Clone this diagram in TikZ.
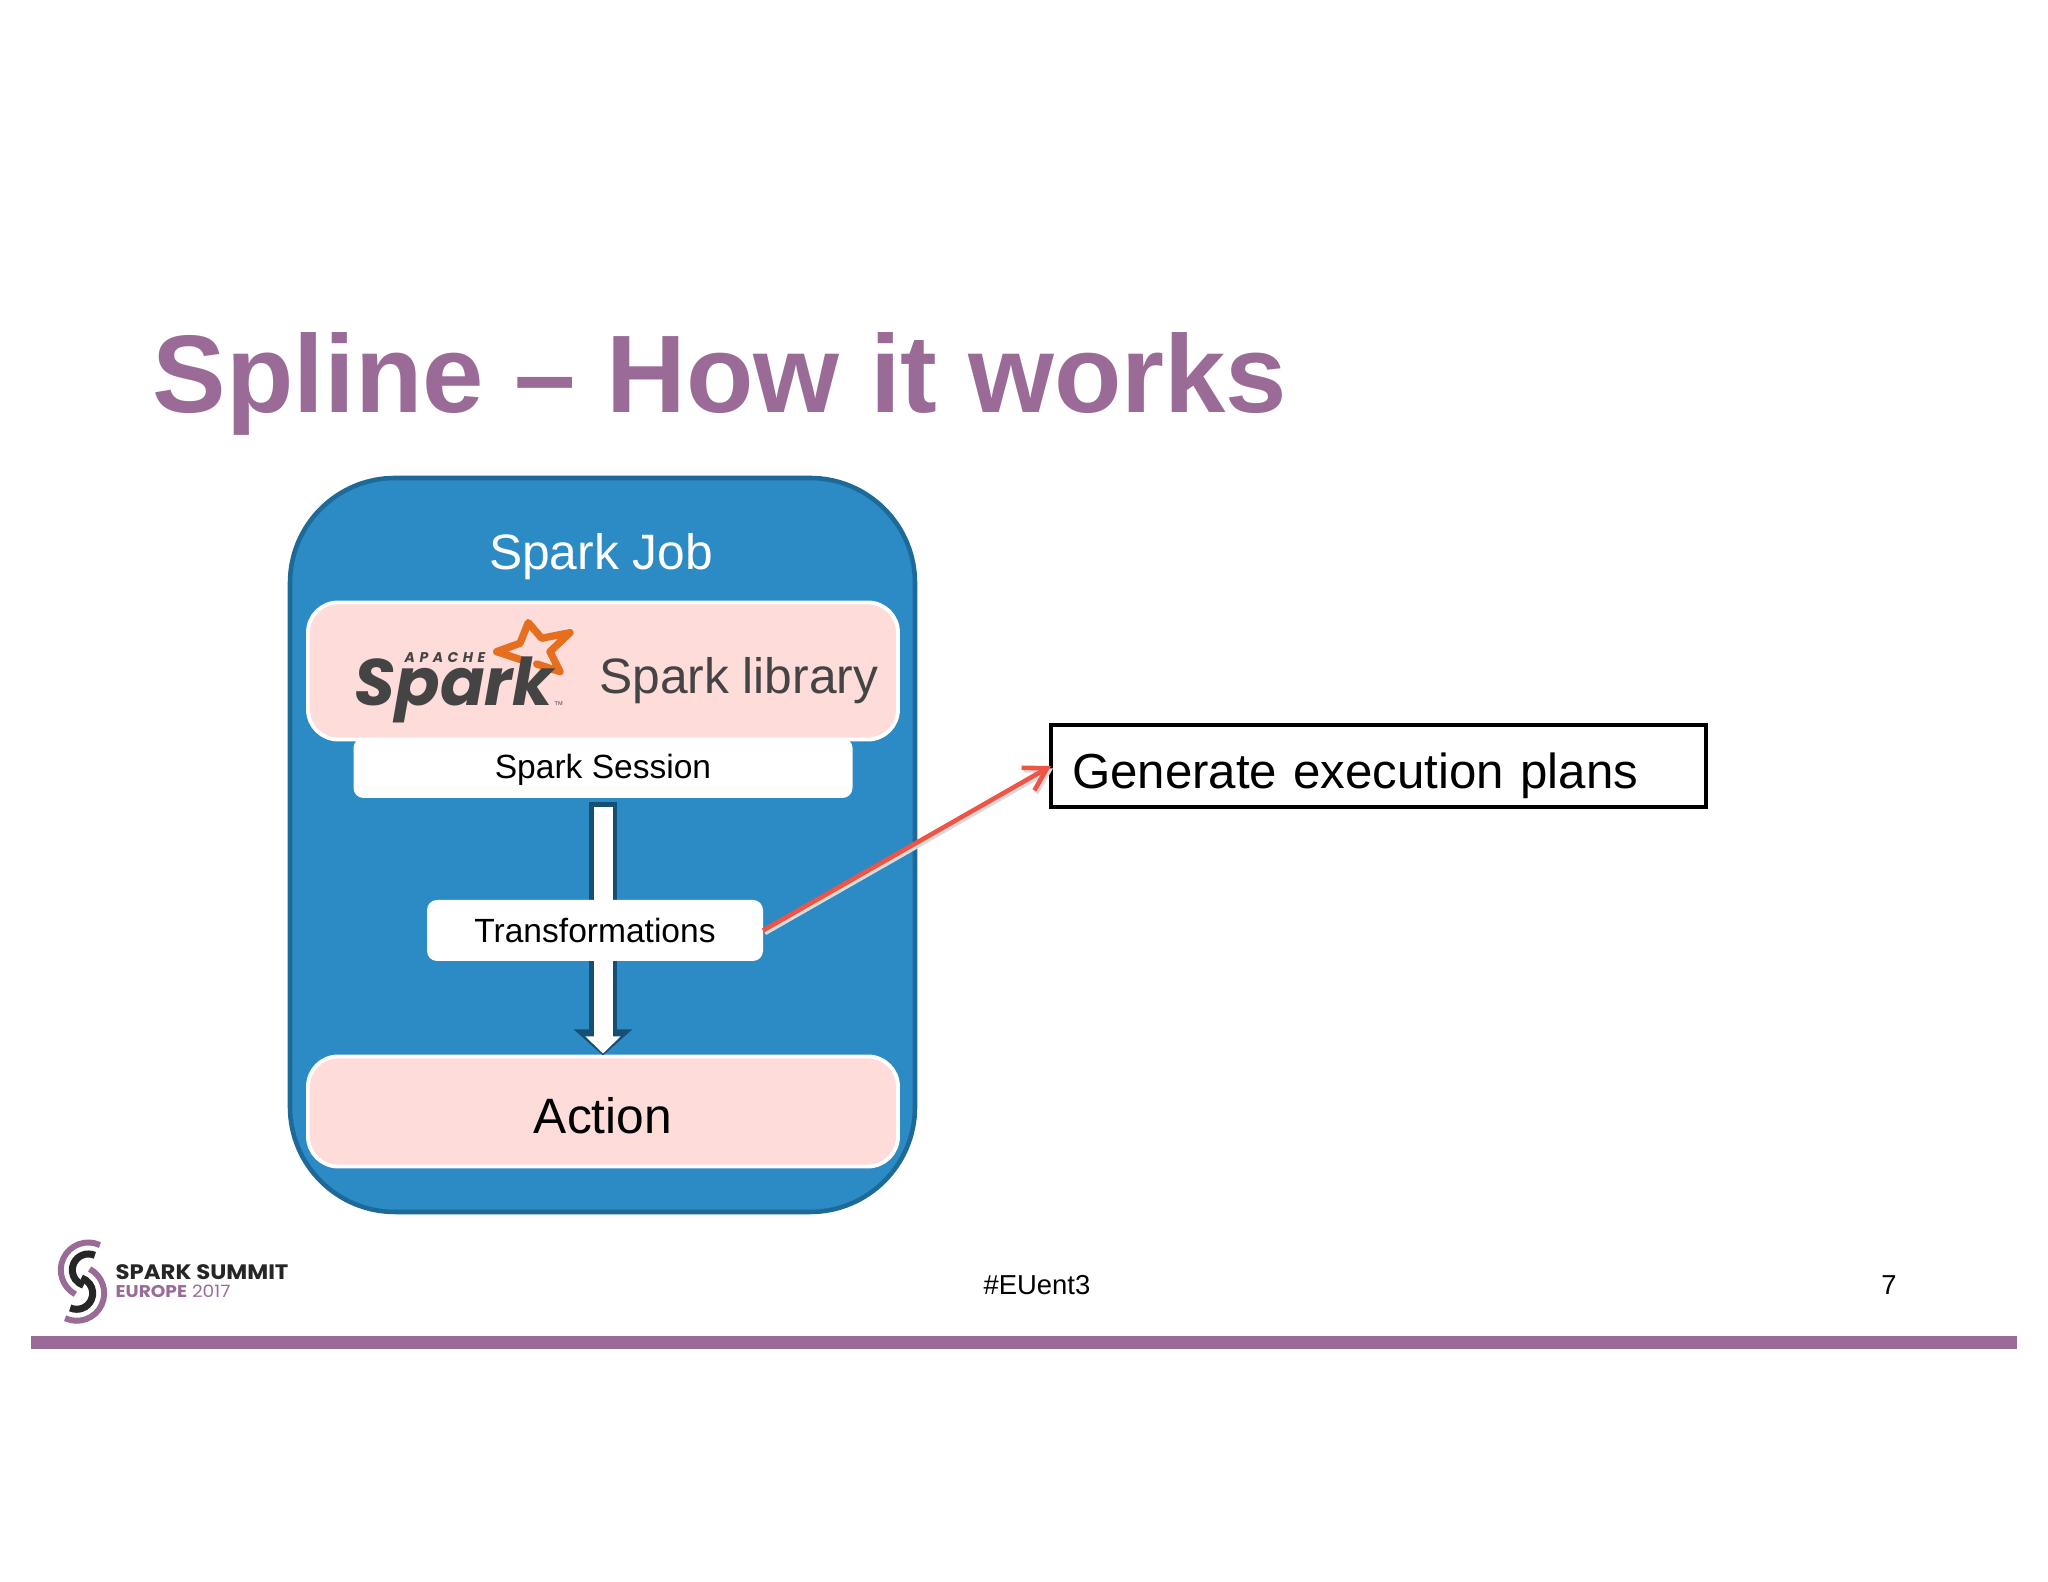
\documentclass[tikz,border=0pt]{standalone}
\usepackage{fontspec}
\setmainfont{Liberation Sans}
\newfontfamily\logofont{Poppins}
\newfontfamily\summitfont[FakeStretch=1.09]{Poppins}
\newfontfamily\apachefont[LetterSpace=32]{Poppins}
\usepackage{tikz}
\usetikzlibrary{arrows.meta}
\usetikzlibrary{calc}
\usepackage{xcolor}
\definecolor{sparkPurple}{HTML}{9B6B98}
\definecolor{jobBlue}{HTML}{2C8AC5}
\definecolor{jobEdge}{HTML}{1D6A99}
\definecolor{arrowEdge}{HTML}{174F74}
\definecolor{libPink}{HTML}{FDDCDA}
\definecolor{sparkGrey}{HTML}{444444}
\definecolor{sparkOrange}{HTML}{E56F1E}
\definecolor{linkRed}{HTML}{EE5544}
\tikzset{
    pinkbox/.style={draw=white, line width=1.1pt, fill=libPink, rounded corners=0.3cm, minimum width=5.9cm, inner sep=0pt, outer sep=0pt},
    whitebox/.style={fill=white, rounded corners=0.1cm, inner sep=0pt, outer sep=0pt, font=\fontsize{9.55}{11}\selectfont},
    bigtext/.style={font=\fontsize{14.15}{17}\selectfont},
    linkarrow/.style={-{Straight Barb[length=0.22cm,width=0.26cm]}, line width=1.3pt}
}

\begin{document}
\begin{tikzpicture}
        \useasboundingbox (0,0) rectangle (20.48,15.82);
        \node [anchor=base west, text=sparkPurple, font=\fontsize{31.4}{36}\selectfont\bfseries, inner sep=0pt] (title) at (1.52,11.69) {Spline -- How it works};

        \node [draw=jobEdge, line width=1.3pt, fill=jobBlue, rounded corners=1.05cm, minimum width=6.25cm, minimum height=7.34cm] (job) at (6.025,7.37) {};
        \node [anchor=base, text=white, bigtext] (jobtext) at (6.01,10.12) {Spark Job};

        \node [whitebox, minimum width=4.99cm, minimum height=0.60cm, text height=0.24cm, text depth=0.02cm] (session) at (6.03,8.14) {Spark Session};
        \node [pinkbox, minimum height=1.37cm] (library) at (6.03,9.11) {};
        \node [pinkbox, minimum height=1.10cm, text height=0.44cm, text depth=0cm, bigtext] (action) at (6.03,4.705) {Action};

        % block arrow, goes behind Transformations
        \draw [-{Triangle[width=0.57cm,length=0.26cm]}, line width=0.28cm, color=arrowEdge, shorten <=0.04cm, shorten >=0.01cm] (session.south) -- (action.north);
        \draw [-{Triangle[width=0.34cm,length=0.17cm]}, line width=0.19cm, color=white, shorten <=0.09cm, shorten >=0.03cm] (session.south) -- (action.north);

        \node [whitebox, minimum width=3.36cm, minimum height=0.61cm] (transform) at (5.95,6.515) {Transformations};

        \node [draw=black, line width=1.4pt, minimum height=0.82cm, text width=6.13cm, text height=0.46cm, text depth=0cm, inner xsep=0.21cm, inner ysep=0pt, outer sep=0pt, align=left, font=\fontsize{14}{17}\selectfont] (plans) at (13.785,8.16) {Generate execution plans};
        \draw [linkarrow, color=black!14, transform canvas={shift={(0.02,-0.025)}}] (transform.east) -- (plans.west);
        \draw [linkarrow, color=linkRed] (transform.east) -- (plans.west);

        % apache spark logo
        \draw [color=sparkOrange, line width=2.1pt, line join=round, line cap=round] (5.217,9.22) -- (4.967,9.303) -- (5.2,9.387) -- (5.283,9.593) -- (5.417,9.437) -- (5.70,9.493) -- (5.50,9.303) -- (5.60,9.103) -- (5.367,9.18);
        \node [anchor=base west, inner sep=0pt, text=sparkGrey, font=\fontsize{18.7}{20}\logofont\bfseries\itshape] (sparkword) at (3.54,8.76) {Spark};
        \node [anchor=base west, inner sep=0pt, text=sparkGrey, font=\fontsize{4}{4}\apachefont\bfseries\itshape] (apache) at (4.04,9.19) {APACHE};
        \node [anchor=base west, inner sep=0pt, text=sparkGrey, font=\fontsize{1.6}{2}\selectfont] (tm) at (5.54,8.76) {TM};
        \node [anchor=base west, inner sep=0pt, text=sparkGrey, bigtext] (libtext) at (5.985,8.885) {Spark library};

        % summit logo
        \foreach \cx/\cy/\a in {0.883/3.12/0, 0.767/2.887/180} {
            \draw [color=sparkPurple, line width=1.7pt] ($(\cx,\cy)+(65+\a:0.275)$) arc (65+\a:242+\a:0.275);
            \draw [color=black!85, line width=2pt] ($(\cx,\cy)+(66+\a:0.16)$) arc (66+\a:253+\a:0.16);
        };
        \node [anchor=base west, inner sep=0pt, text=black!85, font=\fontsize{5.95}{6}\summitfont\bfseries] (summit) at (1.15,3.02) {SPARK SUMMIT};
        \node [anchor=base west, inner sep=0pt, text=sparkPurple, font=\fontsize{4.84}{5}\summitfont] (europe) at (1.15,2.84) {\textbf{EUROPE} 2017};

        \node [font=\fontsize{7.8}{9}\selectfont] (tag) at (10.37,2.97) {\#EUent3};
        \node [font=\fontsize{7.8}{9}\selectfont] (page) at (18.89,2.97) {7};
        \fill [color=sparkPurple] (0.31,2.33) rectangle (20.17,2.46);
    \end{tikzpicture}
\end{document}
